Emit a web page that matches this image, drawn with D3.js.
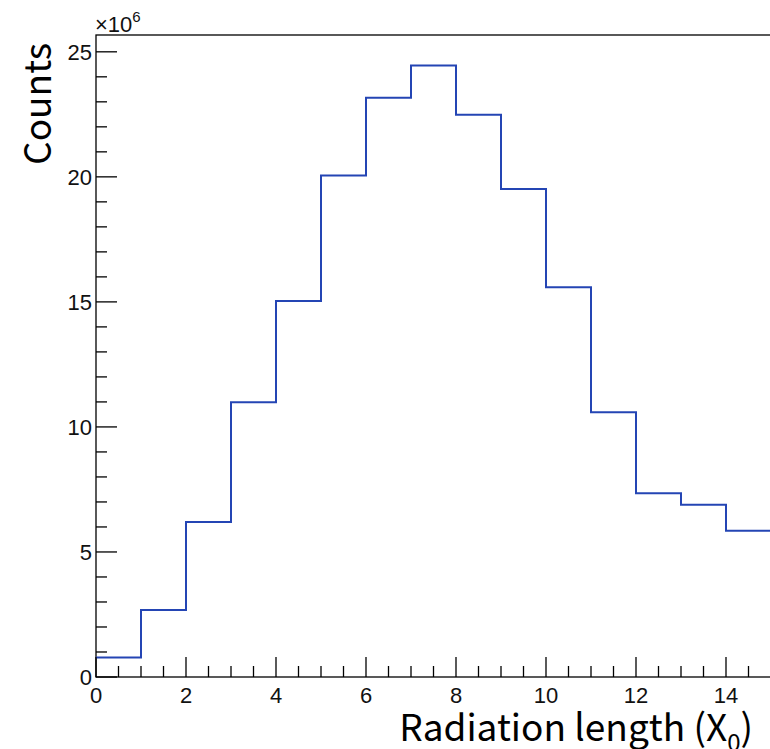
<!DOCTYPE html>
<html>
<head>
<meta charset="utf-8">
<script src="https://cdn.jsdelivr.net/npm/d3@7"></script>
<style>
  html, body { margin: 0; padding: 0; background: #fff; overflow: hidden; }
  svg { display: block; }
</style>
</head>
<body>
<svg id="chart" width="770" height="749"></svg>
<script>
// Bin lower edges (radiation length, X0) and bin contents (x10^6 counts)
const binEdges = [0, 1, 2, 3, 4, 5, 6, 7, 8, 9, 10, 11, 12, 13, 14, 15];
const counts = [0.78, 2.68, 6.2, 10.99, 15.04, 20.05, 23.16, 24.45, 22.48, 19.51, 15.59, 10.59, 7.35, 6.89, 5.85];
const xMajorTicks = [0, 2, 4, 6, 8, 10, 12, 14];
const yMajorTicks = [0, 5, 10, 15, 20, 25];
const xTitle = "Radiation length (X";
const xTitleSub = "0";
const yTitle = "Counts";
const yExponent = "6";

const svg = d3.select("#chart");
const mLeft = 96, mRight = 771, mTop = 35, mBottom = 677;

const x = d3.scaleLinear().domain([0, 15]).range([mLeft, mRight]);
const y = d3.scaleLinear().domain([0, d3.max(counts) * 1.05]).range([mBottom, mTop]);

const tickFont = "'Liberation Sans', Arial, Helvetica, sans-serif";
const titleFont = "'Noto Sans CJK KR', 'Noto Sans', sans-serif";

// Frame
svg.append("rect")
  .attr("x", mLeft).attr("y", mTop)
  .attr("width", mRight - mLeft).attr("height", mBottom - mTop)
  .attr("fill", "none").attr("stroke", "#000").attr("stroke-width", 1.3);

// Histogram step line
const pts = [];
counts.forEach((c, i) => {
  pts.push([binEdges[i], c]);
  pts.push([binEdges[i + 1], c]);
});
const line = d3.line().x(d => x(d[0])).y(d => y(d[1]));
svg.append("path")
  .attr("d", line(pts))
  .attr("fill", "none")
  .attr("stroke", "#2445b4")
  .attr("stroke-width", 2);

// X axis ticks
const xMinor = d3.range(0, 15.001, 0.5);
const gx = svg.append("g");
gx.selectAll("line").data(xMinor).join("line")
  .attr("x1", d => x(d)).attr("x2", d => x(d))
  .attr("y1", mBottom).attr("y2", d => (Math.abs(d % 2) < 1e-9 ? mBottom - 20 : mBottom - 11))
  .attr("stroke", "#000").attr("stroke-width", 1.3);
gx.selectAll("text").data(xMajorTicks).join("text")
  .attr("x", d => x(d)).attr("y", 703)
  .attr("text-anchor", "middle")
  .attr("font-family", tickFont).attr("font-size", 22)
  .attr("fill", "#111")
  .text(d => d);

// Y axis ticks
const yMinor = d3.range(0, 25.001, 1);
const gy = svg.append("g");
gy.selectAll("line").data(yMinor).join("line")
  .attr("x1", mLeft).attr("x2", d => (d % 5 === 0 ? mLeft + 21 : mLeft + 11))
  .attr("y1", d => y(d)).attr("y2", d => y(d))
  .attr("stroke", "#000").attr("stroke-width", 1.3);
gy.selectAll("text").data(yMajorTicks).join("text")
  .attr("x", 92).attr("y", d => y(d) + 8)
  .attr("text-anchor", "end")
  .attr("font-family", tickFont).attr("font-size", 22)
  .attr("fill", "#111")
  .text(d => d);

// Exponent label
const ex = svg.append("text")
  .attr("x", 95).attr("y", 32)
  .attr("font-family", tickFont).attr("font-size", 22)
  .attr("fill", "#111");
ex.append("tspan").text("\u00d710");
ex.append("tspan").attr("dy", -10).attr("font-size", 15).text(yExponent);

// X title
const xt = svg.append("text")
  .attr("x", 753).attr("y", 741)
  .attr("text-anchor", "end")
  .attr("font-family", titleFont).attr("font-size", 37)
  .attr("fill", "#000");
xt.append("tspan").text(xTitle);
xt.append("tspan").attr("dy", 10).attr("font-size", 24).text(xTitleSub);
xt.append("tspan").attr("dy", -10).text(")");

// Y title
svg.append("text")
  .attr("transform", "translate(51,43) rotate(-90)")
  .attr("text-anchor", "end")
  .attr("font-family", titleFont).attr("font-size", 37)
  .attr("fill", "#000")
  .text(yTitle);
</script>
</body>
</html>
